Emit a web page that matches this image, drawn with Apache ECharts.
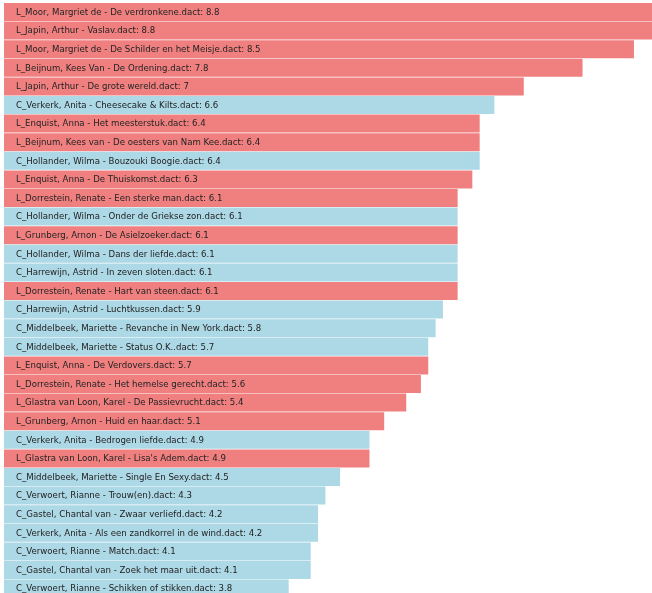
<!DOCTYPE html>
<html><head><meta charset="utf-8">
<script src="https://cdn.jsdelivr.net/npm/echarts@6/dist/echarts.min.js"></script>
<style>html,body{margin:0;padding:0;overflow:hidden;background:#fff}#c{width:660px;height:600px}</style>
</head><body><div id="c"></div>
<script>
const names = [
  "L_Moor, Margriet de - De verdronkene.dact",
  "L_Japin, Arthur - Vaslav.dact",
  "L_Moor, Margriet de - De Schilder en het Meisje.dact",
  "L_Beijnum, Kees Van - De Ordening.dact",
  "L_Japin, Arthur - De grote wereld.dact",
  "C_Verkerk, Anita - Cheesecake & Kilts.dact",
  "L_Enquist, Anna - Het meesterstuk.dact",
  "L_Beijnum, Kees van - De oesters van Nam Kee.dact",
  "C_Hollander, Wilma - Bouzouki Boogie.dact",
  "L_Enquist, Anna - De Thuiskomst.dact",
  "L_Dorrestein, Renate - Een sterke man.dact",
  "C_Hollander, Wilma - Onder de Griekse zon.dact",
  "L_Grunberg, Arnon - De Asielzoeker.dact",
  "C_Hollander, Wilma - Dans der liefde.dact",
  "C_Harrewijn, Astrid - In zeven sloten.dact",
  "L_Dorrestein, Renate - Hart van steen.dact",
  "C_Harrewijn, Astrid - Luchtkussen.dact",
  "C_Middelbeek, Mariette - Revanche in New York.dact",
  "C_Middelbeek, Mariette - Status O.K..dact",
  "L_Enquist, Anna - De Verdovers.dact",
  "L_Dorrestein, Renate - Het hemelse gerecht.dact",
  "L_Glastra van Loon, Karel - De Passievrucht.dact",
  "L_Grunberg, Arnon - Huid en haar.dact",
  "C_Verkerk, Anita - Bedrogen liefde.dact",
  "L_Glastra van Loon, Karel - Lisa's Adem.dact",
  "C_Middelbeek, Mariette - Single En Sexy.dact",
  "C_Verwoert, Rianne - Trouw(en).dact",
  "C_Gastel, Chantal van - Zwaar verliefd.dact",
  "C_Verkerk, Anita - Als een zandkorrel in de wind.dact",
  "C_Verwoert, Rianne - Match.dact",
  "C_Gastel, Chantal van - Zoek het maar uit.dact",
  "C_Verwoert, Rianne - Schikken of stikken.dact"
];
const values = [8.8, 8.8, 8.5, 7.8, 7, 6.6, 6.4, 6.4, 6.4, 6.3, 6.1, 6.1, 6.1, 6.1, 6.1, 6.1,
  5.9, 5.8, 5.7, 5.7, 5.6, 5.4, 5.1, 4.9, 4.9, 4.5, 4.3, 4.2, 4.2, 4.1, 4.1, 3.8];
const groupColors = { L: "#f08080", C: "#add8e6" };
const axisStart = -0.075;
const axisMax = 8.8;

const chart = echarts.init(document.getElementById('c'), null, { renderer: 'canvas' });
chart.setOption({
  animation: false,
  grid: { left: 4, top: 3, width: 652, height: 595.2 },
  xAxis: { type: 'value', min: axisStart, max: axisMax, show: false },
  yAxis: { type: 'category', data: names, inverse: true, show: false },
  series: [{
    type: 'custom',
    data: values.map((v, i) => [v, i]),
    encode: { x: 0, y: 1 },
    renderItem: function (params, api) {
      const i = api.value(1);
      const v = api.value(0);
      const start = api.coord([axisStart, i]);
      const end = api.coord([v, i]);
      const h = api.size([0, 1])[1];
      const bh = h - 0.6;
      const top = end[1] - h / 2;
      const color = groupColors[names[i].charAt(0)];
      return {
        type: 'group',
        children: [
          { type: 'rect', shape: { x: start[0], y: top, width: end[0] - start[0], height: bh }, style: { fill: color } },
          { type: 'text', style: { text: names[i] + ': ' + v, x: start[0] + 12, y: top + h / 2 + 0.2, verticalAlign: 'middle', align: 'left', fill: '#222', fontSize: 8.6, fontFamily: 'DejaVu Sans' } }
        ]
      };
    }
  }]
});
</script>
</body></html>
